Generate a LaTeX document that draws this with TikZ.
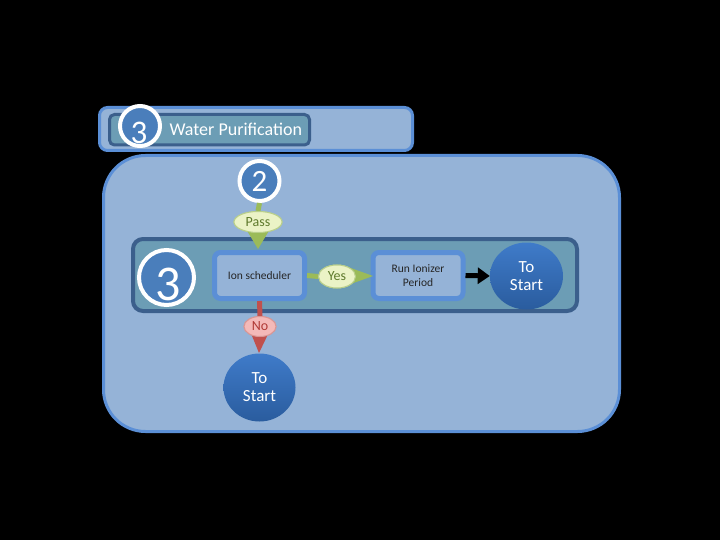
\documentclass[tikz,border=0pt]{standalone}
\usepackage{fontspec}
\setmainfont{Carlito}
\usetikzlibrary{shapes.geometric,arrows.meta}
\definecolor{paleblue}{HTML}{95B3D7}
\definecolor{midblue}{HTML}{5B8FD6}
\definecolor{bandfill}{HTML}{6C9DB5}
\definecolor{banddraw}{HTML}{3B5F8C}
\definecolor{numblue}{HTML}{4A7EBB}
\definecolor{gtop}{HTML}{3F7BC9}
\definecolor{gbot}{HTML}{2A5C9E}
\definecolor{grn}{HTML}{9BBB59}
\definecolor{grnfill}{HTML}{EBF3C6}
\definecolor{grntext}{HTML}{5E7A2C}
\definecolor{rd}{HTML}{C0504D}
\definecolor{rdfill}{HTML}{F4B9B8}
\definecolor{rdtext}{HTML}{B03A36}
\tikzset{
  container/.style={draw=midblue, fill=paleblue, line width=3pt},
  band/.style={draw=banddraw, fill=bandfill, line width=4pt, rounded corners=10pt},
  numcircle/.style={circle, draw=white, fill=numblue, line width=4pt, text=white, inner sep=0pt},
  numtext/.style={text=white, inner sep=0pt},
  stepbox/.style={draw=midblue, fill=paleblue, line width=5pt, rounded corners=6pt, minimum width=90pt, minimum height=46pt, align=center, font=\fontsize{11.5}{14.5}\selectfont, text=black!85},
  startcircle/.style={ellipse, top color=gtop, bottom color=gbot, draw=none, text=white, align=center, font=\fontsize{17}{18}\selectfont},
  gbubble/.style={ellipse, draw=grn!70, fill=grnfill, line width=1pt, text=grntext, inner sep=0pt, font=\fontsize{14}{14}\selectfont},
  rbubble/.style={ellipse, draw=rd!60, fill=rdfill, line width=1pt, text=rdtext, inner sep=0pt, font=\fontsize{14}{14}\selectfont},
}
\begin{document}
\begin{tikzpicture}[x=1pt,y=-1pt]
\fill[black] (0,0) rectangle (720,540);
\useasboundingbox (0,0) rectangle (720,540);
% header
\draw[container, rounded corners=8pt] (99.5,107.5) rectangle (412.5,150.5);
\draw[draw=banddraw, fill=bandfill, line width=3pt, rounded corners=5pt] (109.5,114.5) rectangle (309.5,145);
\node[text=white, font=\fontsize{18}{20}\selectfont, anchor=west] (title) at (166,129) {Water Purification};
\node[numcircle, minimum size=40pt] (h3) at (140,126) {};
\node[numtext, font=\fontsize{33}{33}\selectfont] at (139,133) {3};
% main container
\draw[container, rounded corners=42pt] (103.5,155.5) rectangle (619.5,431.5);
% band
\draw[band] (133,239) rectangle (577,311);
% circle 2
\node[numcircle, minimum size=40pt, font=\fontsize{31}{31}\selectfont] (c2) at (259.5,181) {2};
% big circle 3
\node[numcircle, minimum size=55pt] (c3) at (166.5,277.5) {};
\node[numtext, font=\fontsize{50}{50}\selectfont] at (168.5,284) {3};
% boxes
\node[stepbox] (ion) at (259.5,275.5) {Ion scheduler};
\node[stepbox] (run) at (418,275.5) {Run Ionizer\\Period};
% To Start circles
\node[startcircle, minimum width=73pt, minimum height=67pt] (ts1) at (526.5,276) {To\\Start};
\node[startcircle, minimum width=72pt, minimum height=68pt] (ts2) at (259.5,387.5) {To\\Start};
% Pass connector
\node[gbubble, minimum width=48pt, minimum height=21pt] (pass) at (258,222) {Pass};
\draw[grn, line width=5pt] (c2.south) -- (pass.north);
\fill[grn] (246,229) -- (270,229) -- (258,249) -- cycle;
\node[gbubble, minimum width=48pt, minimum height=21pt] at (258,222) {Pass};
% Yes connector
\coordinate (yestip) at (373,276);
\node[gbubble, minimum width=37pt, minimum height=23pt] (yes) at (337,276.5) {Yes};
\draw[grn, line width=5pt] (ion.east) -- (yes.west);
\fill[grn] (348,267) -- (348,285) -- (yestip) -- cycle;
\node[gbubble, minimum width=37pt, minimum height=23pt] at (337,276.5) {Yes};
% No connector
\node[rbubble, minimum width=32pt, minimum height=20pt] (no) at (260,326.5) {No};
\draw[rd, line width=5pt] (ion.south) -- (no.north);
\fill[rd] (248,326) -- (272,326) -- (259,353) -- cycle;
\node[rbubble, minimum width=32pt, minimum height=20pt] at (260,326.5) {No};
% black arrow
\draw[black, line width=5pt, -{Triangle[length=12pt,width=16pt]}] (run.east) -- (ts1.west);
\end{tikzpicture}
\end{document}
